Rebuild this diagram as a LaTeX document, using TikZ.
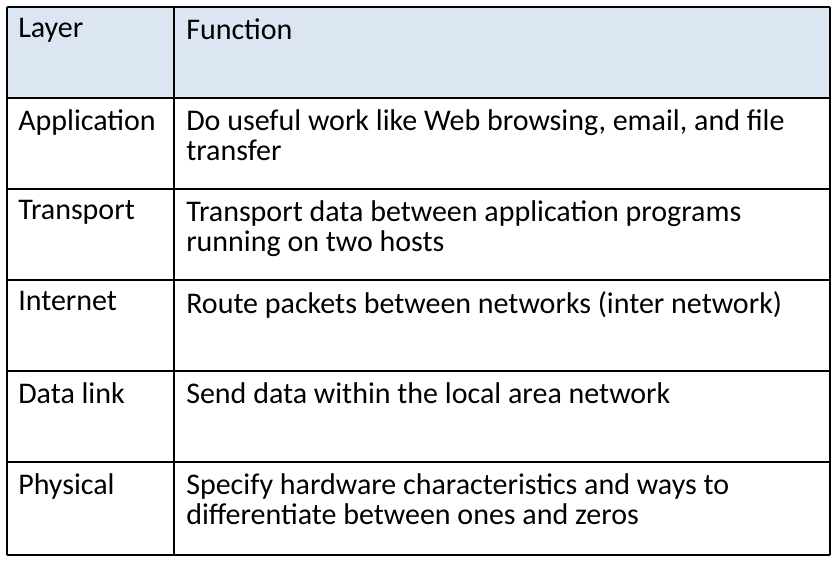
\documentclass[tikz,border=0pt]{standalone}
\usepackage{fontspec}
\setmainfont{Carlito}
\definecolor{headblue}{HTML}{DCE6F2}
\tikzset{
  cell/.style={anchor=north west, inner sep=0pt, align=left, font=\fontsize{22.5}{22.5}\selectfont},
  rule/.style={line width=0.9pt, draw=black}
}
\begin{document}
\begin{tikzpicture}[x=0.75pt,y=-0.75pt]
  \useasboundingbox (0,0) rectangle (836,563);
  % header
  \fill[headblue] (7,7) rectangle (830,98);
  % grid
  \foreach \y in {7,98,189,280,371,462,555}
    \draw[rule] (7,\y) -- (830,\y);
  \draw[rule] (7,7) -- (7,555);
  \draw[rule] (174,7) -- (174,555);
  \draw[rule] (830,7) -- (830,555);
  % texts
  \node[cell] (lh) at (18,18) {Layer};
  \node[cell] (fh) at (186,18) {Function};
  \node[cell] (l1) at (18,109) {Application};
  \node[cell] (f1) at (186,109) {Do useful work like Web browsing, email, and file\\transfer};
  \node[cell] (l2) at (18,200) {Transport};
  \node[cell] (f2) at (186,200) {Transport data between application programs\\running on two hosts};
  \node[cell] (l3) at (18,291) {Internet};
  \node[cell] (f3) at (186,291) {Route packets between networks (inter network)};
  \node[cell] (l4) at (18,382) {Data link};
  \node[cell] (f4) at (186,382) {Send data within the local area network};
  \node[cell] (l5) at (18,473) {Physical};
  \node[cell] (f5) at (186,473) {Specify hardware characteristics and ways to\\differentiate between ones and zeros};
\end{tikzpicture}
\end{document}
